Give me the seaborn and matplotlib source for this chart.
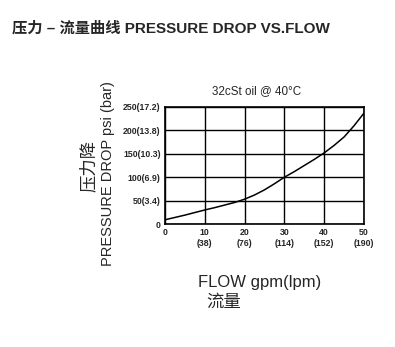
import matplotlib
matplotlib.use("Agg")
import matplotlib.pyplot as plt
import seaborn as sns
import pandas as pd

flow_gpm = [0, 2.5, 5, 7.5, 10, 12.5, 15, 17.5, 20, 22.5, 25, 27.5, 30, 32.5, 35, 37.5, 40, 42.5, 45, 47.5, 50]
pressure_psi = [9, 14, 19, 24.5, 30, 35, 40.5, 46, 53, 62, 73, 86, 100, 112, 125, 138, 152, 168, 186, 210, 237]
x_ticks = [0, 10, 20, 30, 40, 50]
x_labels = ["0", "10\n(38)", "20\n(76)", "30\n(114)", "40\n(152)", "50\n(190)"]
y_ticks = [0, 50, 100, 150, 200, 250]
y_labels = ["0", "50(3.4)", "100(6.9)", "150(10.3)", "200(13.8)", "250(17.2)"]

sns.set_theme(style="white")
fams = ["Liberation Sans", "Noto Sans CJK SC", "DejaVu Sans"]
plt.rcParams["font.family"] = fams

W, H = 395, 347
fig = plt.figure(figsize=(W / 100, H / 100), dpi=100)
ax = fig.add_axes([165 / W, 1 - 224 / H, (364 - 165) / W, (224 - 107) / H])

df = pd.DataFrame({"flow": flow_gpm, "psi": pressure_psi})
sns.lineplot(data=df, x="flow", y="psi", ax=ax, color="black", linewidth=1.1)

ax.set_xlim(0, 50)
ax.set_ylim(0, 250)
ax.set_xticks(x_ticks)
ax.set_xticklabels(x_labels, fontsize=6.3, fontweight="bold", va="top")
ax.set_yticks(y_ticks)
ax.set_yticklabels(y_labels, fontsize=6.3, fontweight="bold")
ax.tick_params(length=0, pad=3)
ax.grid(True, color="black", linewidth=1.0)
for s in ax.spines.values():
    s.set_color("black")
    s.set_linewidth(1.2)
ax.set_xlabel("")
ax.set_ylabel("")

def px(x, y):
    return x / W, 1 - y / H

fig.text(*px(12, 28), "压力 – 流量曲线 PRESSURE DROP VS.FLOW", fontsize=11,
         fontweight="bold", ha="left", va="center")
fig.text(*px(257, 91), "32cSt oil @ 40°C", fontsize=8.4, ha="center", va="center")
fig.text(*px(108, 174), "PRESSURE DROP psi (bar)", fontsize=10.5, rotation=90,
         ha="center", va="center")
fig.text(*px(88, 166), "压力降", fontsize=12.5, rotation=90, ha="center", va="center")
fig.text(*px(260, 282), "FLOW gpm(lpm)", fontsize=12, ha="center", va="center")
fig.text(*px(224, 302), "流量", fontsize=12.5, ha="center", va="center")

fig.savefig("out.png", dpi=100, facecolor="white")
